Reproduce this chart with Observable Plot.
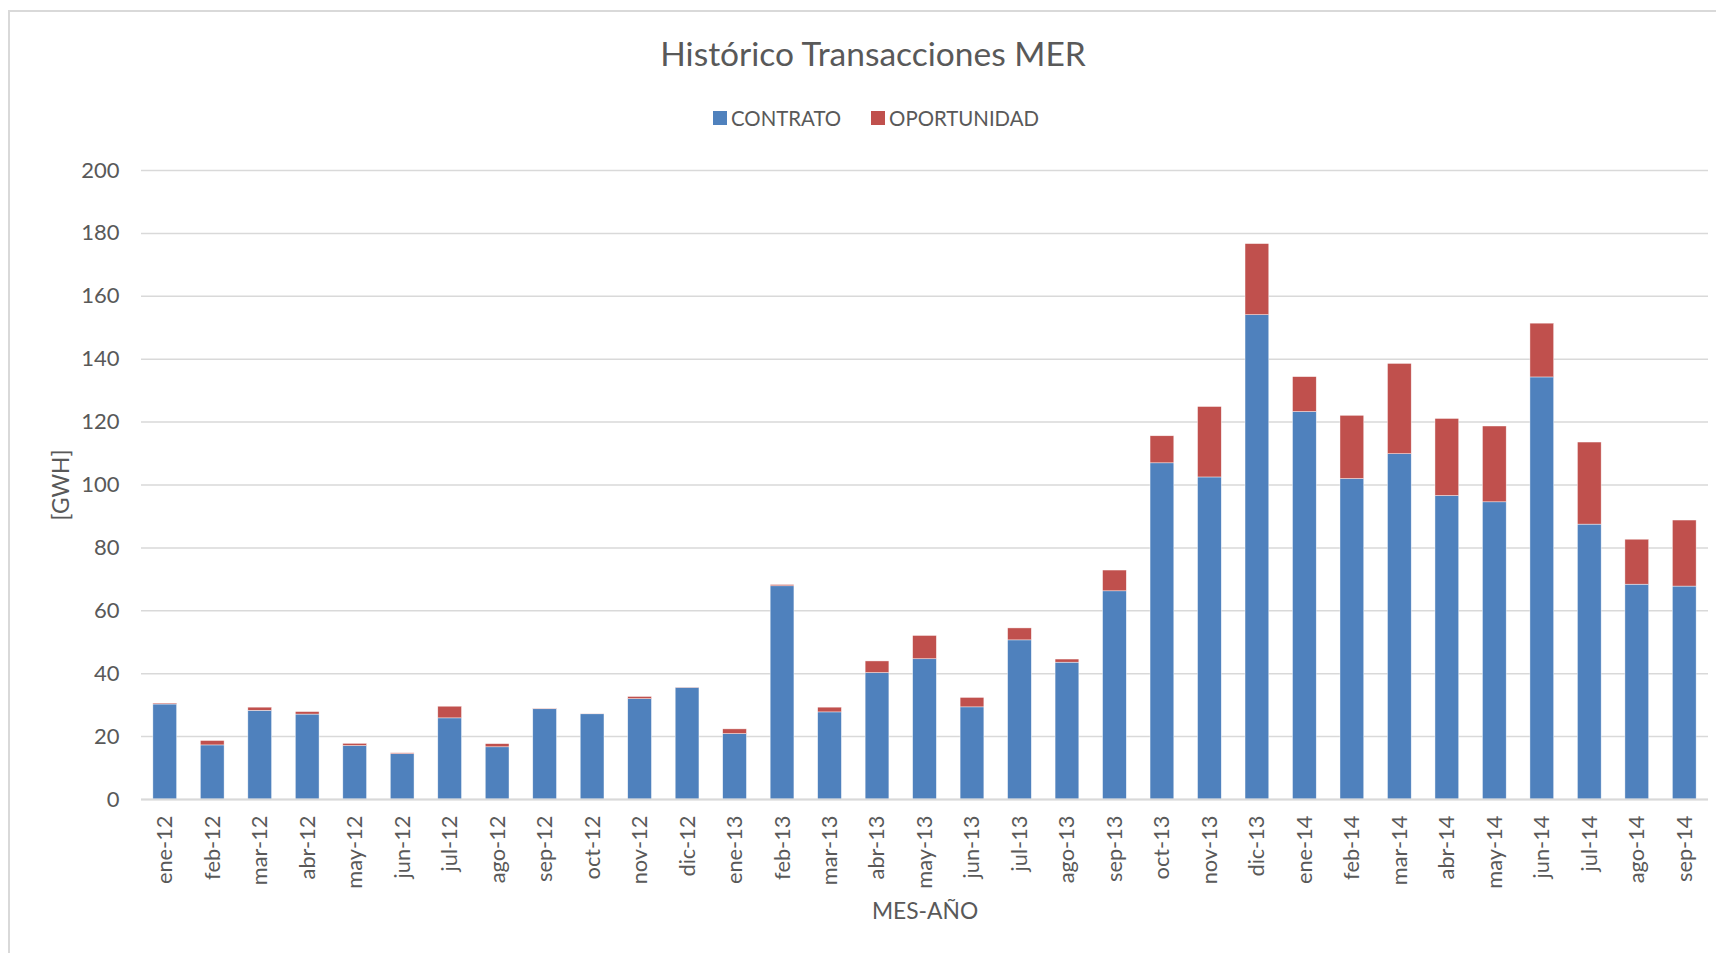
<!DOCTYPE html>
<html>
<head>
<meta charset="utf-8">
<script src="https://cdn.jsdelivr.net/npm/d3@7"></script>
<script src="https://cdn.jsdelivr.net/npm/@observablehq/plot@0.6"></script>
<style>
  html, body { margin: 0; padding: 0; background: #fff; }
  body { width: 1716px; height: 953px; overflow: hidden; font-family: Lato, "Open Sans", sans-serif; color: #595959; }
  #wrap { position: relative; width: 1716px; height: 953px; }
  #frame { position: absolute; left: 8px; top: 10px; width: 1720px; height: 960px; border-left: 2px solid #d9d9d9; border-top: 2px solid #d9d9d9; box-sizing: border-box; }
  #title { position: absolute; left: 0; width: 1746px; top: 31px; text-align: center; font-size: 33.5px; line-height: 44px; color: #595959; }
  #legend { position: absolute; left: 0; width: 1752px; top: 106px; display: flex; justify-content: center; gap: 30px; font-size: 20.4px; line-height: 24px; }
  #legend span.item { display: flex; align-items: center; }
  #legend i { display: inline-block; width: 14px; height: 14px; margin-right: 4px; }
  #chart { position: absolute; left: 0; top: 140px; }
</style>
</head>
<body>
<div id="wrap">
  <div id="frame"></div>
  <div id="title">Histórico Transacciones MER</div>
  <div id="legend"></div>
  <div id="chart"></div>
</div>
<script>
const months = ["ene-12","feb-12","mar-12","abr-12","may-12","jun-12","jul-12","ago-12","sep-12","oct-12","nov-12","dic-12",
  "ene-13","feb-13","mar-13","abr-13","may-13","jun-13","jul-13","ago-13","sep-13","oct-13","nov-13","dic-13",
  "ene-14","feb-14","mar-14","abr-14","may-14","jun-14","jul-14","ago-14","sep-14"];
const contrato = [30.2,17.2,28.2,27.0,17.0,14.4,25.8,16.6,28.7,27.1,31.9,35.5,
  20.8,67.8,27.7,40.2,44.6,29.3,50.6,43.5,66.2,106.9,102.4,154.0,
  123.2,101.9,109.8,96.5,94.5,134.2,87.4,68.3,67.7];
const oportunidad = [0.3,1.4,1.0,0.8,0.7,0.3,3.7,1.0,0.2,0.1,0.7,0.1,
  1.5,0.4,1.5,3.7,7.4,3.0,3.8,1.0,6.6,8.6,22.4,22.6,
  11.1,20.1,28.7,24.5,24.1,17.1,26.1,14.3,21.0];
const seriesNames = ["CONTRATO", "OPORTUNIDAD"];
const seriesColors = ["#4F81BD", "#C0504D"];
const yTicks = [0,20,40,60,80,100,120,140,160,180,200];
const xTitle = "MES-AÑO";
const yTitle = "[GWH]";

const rows = [];
months.forEach((m, i) => {
  rows.push({mes: m, serie: seriesNames[0], valor: contrato[i]});
  rows.push({mes: m, serie: seriesNames[1], valor: oportunidad[i]});
});

// legend
const leg = document.getElementById("legend");
seriesNames.forEach((s, i) => {
  const it = document.createElement("span");
  it.className = "item";
  const sw = document.createElement("i");
  sw.style.background = seriesColors[i];
  it.appendChild(sw);
  it.appendChild(document.createTextNode(s));
  leg.appendChild(it);
});

const plot = Plot.plot({
  width: 1716,
  height: 813,
  marginLeft: 141,
  marginRight: 8,
  marginTop: 30,
  marginBottom: 154,
  style: { fontFamily: "Lato, 'Open Sans', sans-serif", fontSize: "21.8px", color: "#595959", background: "transparent" },
  x: { domain: months, paddingInner: 0.5, paddingOuter: 0.25, round: false, label: null },
  y: { domain: [0, 200], label: null },
  color: { domain: seriesNames, range: seriesColors },
  marks: [
    Plot.gridY(yTicks, { stroke: "#d9d9d9", strokeOpacity: 1, strokeWidth: 1.5 }),
    Plot.barY(rows, Plot.stackY({ x: "mes", y: "valor", fill: "serie", stroke: "white", strokeWidth: 0.6, strokeOpacity: 0.7 })),
    Plot.ruleY([0], { stroke: "#d9d9d9", strokeWidth: 2 }),
    Plot.axisY(yTicks, { tickSize: 0, tickPadding: 22, label: null, fill: "#595959", fontSize: 22 }),
    Plot.axisX({ tickSize: 0, tickRotate: -90, tickPadding: 16, label: null, fill: "#595959", fontSize: 21.8 }),
    Plot.text([xTitle], { frameAnchor: "bottom", dy: 119, fontSize: 22.8, fill: "#595959" }),
    Plot.text([yTitle], { frameAnchor: "left", textAnchor: "middle", dx: -80, rotate: -90, fontSize: 22.8, fill: "#595959" })
  ]
});
document.getElementById("chart").appendChild(plot);
</script>
</body>
</html>
